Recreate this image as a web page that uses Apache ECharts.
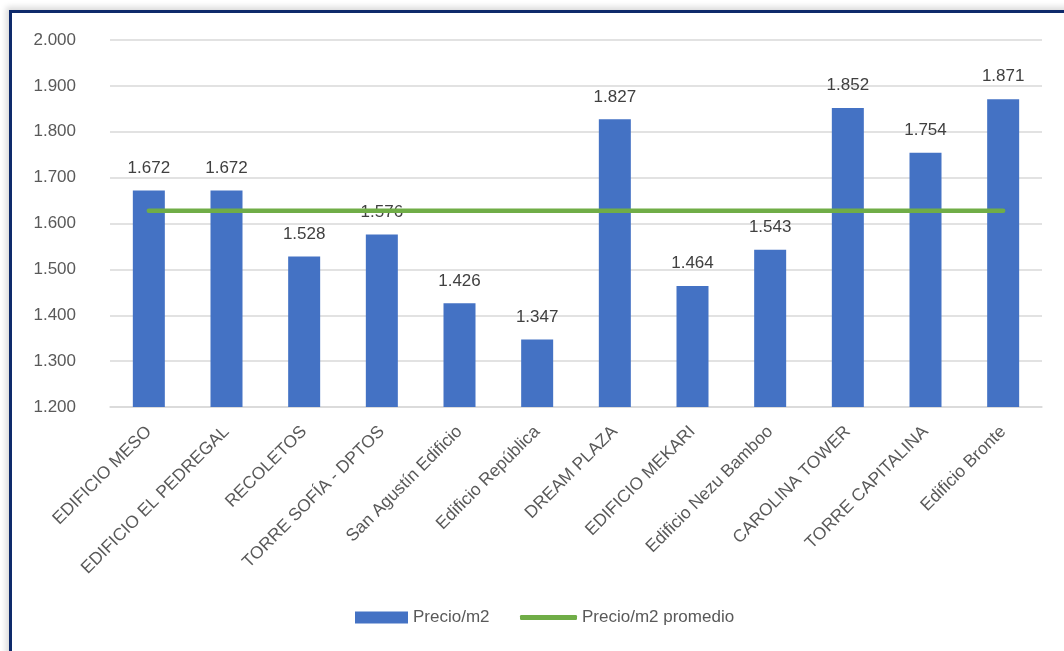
<!DOCTYPE html>
<html><head><meta charset="utf-8">
<script src="https://cdn.jsdelivr.net/npm/echarts@6/dist/echarts.min.js"></script>
<style>
html,body{margin:0;padding:0;background:#fff;width:1064px;height:651px;overflow:hidden;}
#frame{position:absolute;left:9px;top:10px;width:1100px;height:700px;border-left:3px solid #0e2a6b;border-top:3px solid #0e2a6b;box-shadow:-3px -3px 6px rgba(0,0,0,0.15);}
#c{position:absolute;left:0;top:0;width:1064px;height:651px;}
</style></head>
<body>
<div id="frame"></div>
<div id="c"></div>
<script>
const categories = ["EDIFICIO MESO","EDIFICIO EL PEDREGAL","RECOLETOS","TORRE SOFÍA - DPTOS","San Agustín Edificio","Edificio República","DREAM PLAZA","EDIFICIO MEKARI","Edificio Nezu Bamboo","CAROLINA TOWER","TORRE CAPITALINA","Edificio Bronte"];
const precio = [1672,1672,1528,1576,1426,1347,1827,1464,1543,1852,1754,1871];
const promedio = [1628,1628,1628,1628,1628,1628,1628,1628,1628,1628,1628,1628];
const yTicks = [1200,1300,1400,1500,1600,1700,1800,1900,2000];

function fmt(v){ return String(v).replace(/\B(?=(\d{3})+(?!\d))/g,'.'); }
const FONT = '"Liberation Sans", Arial, sans-serif';

const chart = echarts.init(document.getElementById('c'));
chart.setOption({
  animation:false,
  textStyle:{fontFamily:FONT},
  grid:{left:110,right:22,top:40,bottom:244},
  legend:[
    {top:604,left:350,textStyle:{color:'#595959',fontSize:17,fontFamily:FONT},
     data:[{name:'Precio/m2',icon:'rect',itemStyle:{color:'#4472c4'}}],itemWidth:53,itemHeight:12},
    {top:604,left:515,textStyle:{color:'#595959',fontSize:17,fontFamily:FONT},
     data:[{name:'Precio/m2 promedio',icon:'roundRect',itemStyle:{color:'#70ad47'}}],itemWidth:57,itemHeight:5}
  ],
  xAxis:{type:'category',data:categories,
    axisLine:{lineStyle:{color:'#d9d9d9',width:1.5}},axisTick:{show:false},
    axisLabel:{rotate:45,color:'#595959',fontSize:17.4,interval:0,margin:22}},
  yAxis:{type:'value',min:yTicks[0],max:yTicks[yTicks.length-1],interval:100,
    axisLine:{show:false},axisTick:{show:false},
    splitLine:{lineStyle:{color:'#d9d9d9',width:1.5}},
    axisLabel:{color:'#595959',fontSize:17,margin:34,formatter:fmt}},
  series:[
    {name:'Precio/m2',type:'bar',data:precio,barWidth:32,itemStyle:{color:'#4472c4'},
     label:{show:true,position:'top',distance:14,color:'#404040',fontSize:17,formatter:p=>fmt(p.value)}},
    {name:'Precio/m2 promedio',type:'line',data:promedio,symbol:'none',
     lineStyle:{color:'#70ad47',width:4.5,cap:'round'},itemStyle:{color:'#70ad47'}}
  ]
});
</script>
</body></html>
